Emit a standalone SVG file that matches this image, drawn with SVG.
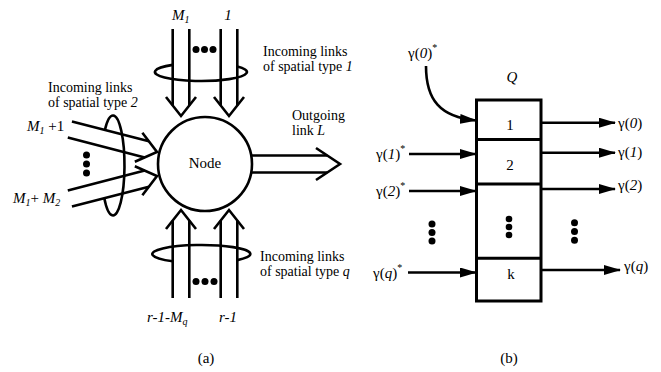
<svg xmlns="http://www.w3.org/2000/svg" width="661" height="372" viewBox="0 0 661 372" font-family="'Liberation Serif', 'Times New Roman', serif">
<style>
text{font-family:"Liberation Serif","Times New Roman",serif;font-size:15px;fill:#000}
.t2{font-size:14px}
.it{font-style:italic}
.sup{font-size:10px}
.sub{font-size:10px}
.ln{fill:none;stroke:#000;stroke-width:2.6;stroke-linecap:butt;stroke-linejoin:miter}
.bx{fill:#fff;stroke:#000;stroke-width:3}
.dot{fill:#000}
</style>
<defs>
<path id="dh" d="M-19,-15 L0,0 L-19,15" class="ln"/>
<marker id="ah" markerUnits="userSpaceOnUse" viewBox="0 0 17 10" refX="16" refY="5" markerWidth="17" markerHeight="10" orient="auto">
<path d="M0,0 L17,5 L0,10 z" fill="#000"/>
</marker>
</defs>

<!-- (a) node -->
<g id="node">
<circle cx="205" cy="164" r="47" fill="#fff" stroke="#000" stroke-width="2.6"/>
<text x="205" y="168" text-anchor="middle">Node</text>
</g>

<g id="connectors-a">
<!-- top incoming (type 1) -->
<g transform="translate(181,116) rotate(90)">
<path class="ln" d="M-87,-8.3 H-10.5 M-87,8.3 H-10.5"/><use href="#dh"/>
</g>
<g transform="translate(229,116) rotate(90)">
<path class="ln" d="M-87,-8.3 H-10.5 M-87,8.3 H-10.5"/><use href="#dh"/>
</g>
<!-- bottom incoming (type q) -->
<g transform="translate(181,210) rotate(-90)">
<path class="ln" d="M-88,-8.3 H-10.5 M-88,8.3 H-10.5"/><use href="#dh"/>
</g>
<g transform="translate(229,210) rotate(-90)">
<path class="ln" d="M-88,-8.3 H-10.5 M-88,8.3 H-10.5"/><use href="#dh"/>
</g>
<!-- left incoming (type 2) -->
<g transform="translate(157,152) rotate(14.5)">
<path class="ln" d="M-90,-8.3 H-10.5 M-90,8.3 H-10.5"/><use href="#dh"/>
</g>
<g transform="translate(157,176) rotate(-14.5)">
<path class="ln" d="M-90,-8.3 H-10.5 M-90,8.3 H-10.5"/><use href="#dh"/>
</g>
<!-- outgoing -->
<g transform="translate(340,164)">
<path class="ln" d="M-89,-8.5 H-12.7 M-89,8.5 H-12.7"/><path class="ln" d="M-24,-16 L0,0 L-24,16"/>
</g>
<!-- loops -->
<path class="ln" d="M172.7,64.9 A46,9 0 1 0 237.3,66.5"/>
<path class="ln" d="M172.7,261.3 A49,9 0 1 1 237.3,260.1"/>
<path class="ln" d="M104.9,129.9 A11.5,50 0 1 1 104.3,198.2"/>
<!-- dots -->
<circle class="dot" cx="196" cy="49.5" r="3.5"/>
<circle class="dot" cx="204.5" cy="49.5" r="3.5"/>
<circle class="dot" cx="213" cy="49.5" r="3.5"/>
<circle class="dot" cx="196" cy="281.5" r="3.5"/>
<circle class="dot" cx="205" cy="281.5" r="3.5"/>
<circle class="dot" cx="214" cy="281.5" r="3.5"/>
<circle class="dot" cx="86.5" cy="155" r="3.5"/>
<circle class="dot" cx="86.5" cy="164" r="3.5"/>
<circle class="dot" cx="86.5" cy="173" r="3.5"/>
</g>

<g id="labels-a">
<text x="172" y="20" class="it">M<tspan class="sub" dy="3">1</tspan></text>
<text x="228" y="20" class="it" text-anchor="middle">1</text>
<text x="263" y="56" class="t2">Incoming links</text>
<text x="263" y="71" class="t2">of spatial type <tspan class="it">1</tspan></text>
<text x="48" y="92" class="t2">Incoming links</text>
<text x="48" y="107" class="t2">of spatial type <tspan class="it">2</tspan></text>
<text x="292" y="120" class="t2">Outgoing</text>
<text x="292" y="135" class="t2">link <tspan class="it">L</tspan></text>
<text x="27" y="131"><tspan class="it">M</tspan><tspan class="sub it" dy="3">1</tspan><tspan dy="-3"> +1</tspan></text>
<text x="13" y="203"><tspan class="it">M</tspan><tspan class="sub it" dy="3">1</tspan><tspan dy="-3">+ </tspan><tspan class="it">M</tspan><tspan class="sub it" dy="3">2</tspan></text>
<text x="147" y="322" class="it">r-1-M<tspan class="sub" dy="3">q</tspan></text>
<text x="219" y="322" class="it">r-1</text>
<text x="260" y="261" class="t2">Incoming links</text>
<text x="260" y="276" class="t2">of spatial type <tspan class="it">q</tspan></text>
<text x="206" y="363" text-anchor="middle">(a)</text>
</g>

<!-- (b) queue -->
<g id="queue">
<rect class="bx" x="476.5" y="100" width="64.5" height="201"/>
<path d="M476.5,139.5 H541 M476.5,184 H541 M476.5,258.3 H541" stroke="#000" stroke-width="3"/>
<text x="510" y="130" text-anchor="middle">1</text>
<text x="510" y="170" text-anchor="middle">2</text>
<text x="511" y="279" text-anchor="middle">k</text>
<circle class="dot" cx="509" cy="219" r="3.3"/>
<circle class="dot" cx="509" cy="227" r="3.3"/>
<circle class="dot" cx="509" cy="235" r="3.3"/>
</g>

<g id="connectors-b">
<path class="ln" d="M426,66 C426,100 440,117 476,120.5" marker-end="url(#ah)"/>
<path class="ln" d="M409,154 H476" marker-end="url(#ah)"/>
<path class="ln" d="M409,191 H476" marker-end="url(#ah)"/>
<path class="ln" d="M408,272.5 H476" marker-end="url(#ah)"/>
<path class="ln" d="M542,122.7 H615" marker-end="url(#ah)"/>
<path class="ln" d="M542,152.7 H615" marker-end="url(#ah)"/>
<path class="ln" d="M542,189 H615" marker-end="url(#ah)"/>
<path class="ln" d="M542,270 H620" marker-end="url(#ah)"/>
<circle class="dot" cx="432" cy="224" r="3.5"/>
<circle class="dot" cx="432" cy="232.5" r="3.5"/>
<circle class="dot" cx="432" cy="241" r="3.5"/>
<circle class="dot" cx="574.5" cy="222.7" r="3.5"/>
<circle class="dot" cx="574.5" cy="231.5" r="3.5"/>
<circle class="dot" cx="574.5" cy="240.3" r="3.5"/>
</g>

<g id="labels-b">
<text x="408" y="58">γ(<tspan class="it">0</tspan>)<tspan class="sup" dy="-7">*</tspan></text>
<text x="512" y="82" class="it" text-anchor="middle">Q</text>
<text x="376" y="159">γ(<tspan class="it">1</tspan>)<tspan class="sup" dy="-7">*</tspan></text>
<text x="376" y="196">γ(<tspan class="it">2</tspan>)<tspan class="sup" dy="-7">*</tspan></text>
<text x="373" y="277.5">γ(<tspan class="it">q</tspan>)<tspan class="sup" dy="-7">*</tspan></text>
<text x="618" y="128">γ(<tspan class="it">0</tspan>)</text>
<text x="618" y="157">γ(<tspan class="it">1</tspan>)</text>
<text x="618" y="190">γ(<tspan class="it">2</tspan>)</text>
<text x="624" y="271">γ(<tspan class="it">q</tspan>)</text>
<text x="509" y="363" text-anchor="middle">(b)</text>
</g>
</svg>
